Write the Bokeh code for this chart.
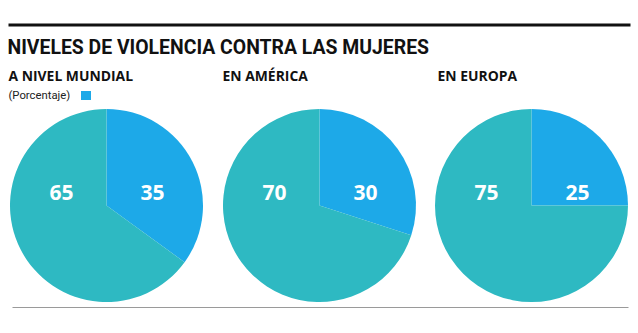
import math
from bokeh.plotting import figure
from bokeh.models import Range1d
from bokeh.core.properties import value
from bokeh.embed import file_html
from bokeh.resources import INLINE

title = "NIVELES DE VIOLENCIA CONTRA LAS MUJERES"
regions = ["A NIVEL MUNDIAL", "EN AMÉRICA", "EN EUROPA"]
violence = [35, 30, 25]
rest = [65, 70, 75]
unit_note = "(Porcentaje)"

TEAL = "#2EB9C2"
BLUE = "#1DA9E8"
W, H = 638, 333

p = figure(width=W, height=H, output_backend="svg", toolbar_location=None,
           x_range=Range1d(0, W), y_range=Range1d(0, H),
           min_border=0, min_border_left=0, min_border_right=0,
           min_border_top=0, min_border_bottom=0)
p.axis.visible = False
p.grid.visible = False
p.outline_line_color = None
p.background_fill_color = "white"
p.border_fill_color = "white"

def Y(py):
    return H - py

# top rule
p.line([8, 630], [Y(24.5), Y(24.5)], line_color="#111111", line_width=3)
# bottom rule
p.line([12, 628], [Y(307), Y(307)], line_color="#9a9a9a", line_width=1)

p.text([7], [Y(47)], text=[title], text_font=value("Roboto"), text_font_style="bold",
       text_font_size="19.4px", text_color="#111111", text_baseline="middle")

sub_x = [8, 222, 437]
for i, r in enumerate(regions):
    p.text([sub_x[i]], [Y(75)], text=[r], text_font=value("Open Sans"), text_font_style="bold",
           text_font_size="13.9px", text_color="#111111", text_baseline="middle")

p.text([8], [Y(95)], text=[unit_note], text_font=value("Roboto"),
       text_font_size="11.3px", text_color="#222222", text_baseline="middle")
p.rect([85.5], [Y(95)], width=10, height=9, fill_color=BLUE, line_color=None)

cx = [106, 319, 531]
cy = Y(205)
R = 96.5
for i in range(3):
    frac = violence[i] / (violence[i] + rest[i])
    a0 = math.pi / 2
    a1 = math.pi / 2 - 2 * math.pi * frac
    p.wedge([cx[i]], [cy], radius=R, start_angle=a1, end_angle=a0,
            fill_color=BLUE, line_color=None, direction="anticlock")
    p.wedge([cx[i]], [cy], radius=R, start_angle=a0, end_angle=a1,
            fill_color=TEAL, line_color=None, direction="anticlock")
    p.text([cx[i] + 46], [Y(192)], text=[str(violence[i])], text_font=value("Open Sans"),
           text_font_style="bold", text_font_size="21px", text_color="white",
           text_align="center", text_baseline="middle")
    p.text([cx[i] - 45], [Y(192)], text=[str(rest[i])], text_font=value("Open Sans"),
           text_font_style="bold", text_font_size="21px", text_color="white",
           text_align="center", text_baseline="middle")

open("out.html", "w").write(file_html(p, INLINE))
